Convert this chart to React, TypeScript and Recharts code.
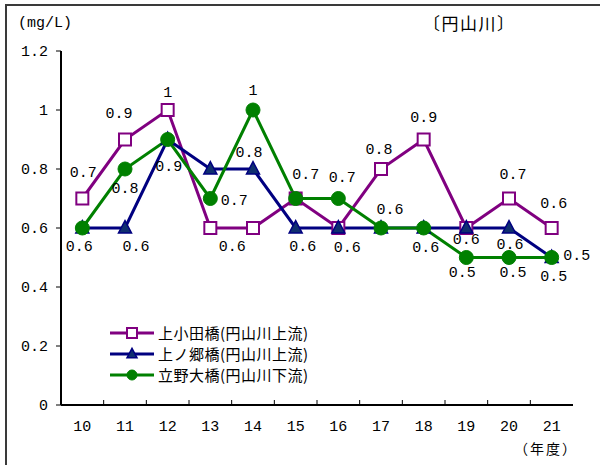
import React from 'react';
import { LineChart, Line, XAxis, YAxis, LabelList, Legend } from 'recharts';

const years = ['10', '11', '12', '13', '14', '15', '16', '17', '18', '19', '20', '21'];
const kamiOdabashi = [0.7, 0.9, 1, 0.6, 0.6, 0.7, 0.6, 0.8, 0.9, 0.6, 0.7, 0.6];
const kaminogoBashi = [0.6, 0.6, 0.9, 0.8, 0.8, 0.6, 0.6, 0.6, 0.6, 0.6, 0.6, 0.5];
const tatenoOhashi = [0.6, 0.8, 0.9, 0.7, 1, 0.7, 0.7, 0.6, 0.6, 0.5, 0.5, 0.5];
const yTicks = [0, 0.2, 0.4, 0.6, 0.8, 1, 1.2];
const seriesNames = ['上小田橋(円山川上流)', '上ノ郷橋(円山川上流)', '立野大橋(円山川下流)'];

const data = years.map((year, i) => ({
  year,
  a: kamiOdabashi[i],
  b: kaminogoBashi[i],
  c: tatenoOhashi[i],
}));

// label placement (dx, dy from the point), null = no label shown
type Off = [number, number] | null;
const offA: Off[] = [[1, -25], [-6, -25], [0, -17], [22, 19], null, [10, -23], null, [-2, -19], [0, -21], null, [4, -23], [2, -24]];
const offB: Off[] = [[-3, 19], [11, 19], [1, 28], null, [-4, -16], [7, 19], [9, 20], null, null, [0, 12], [1, 17], [2, 20]];
const offC: Off[] = [null, [0, 20], null, [24, 3], [0, -19], null, [4, -20], [9, -18], [2, 20], [-4, 16], [4, 16], [25, -1]];

const PURPLE = '#800080';
const NAVY = '#000080';
const GREEN = '#008000';
const FRAME = '#3a3a3a';
const MONO = '"Liberation Mono", "DejaVu Sans Mono", monospace';
const CJK = '"Noto Sans CJK JP", "Noto Sans", sans-serif';

const W = 600;
const H = 465;
const M = { top: 51, right: 27, bottom: 30, left: 0 };
const Y_W = 61;
const bandW = (W - M.left - M.right - Y_W) / years.length;

type Kind = 'square' | 'triangle' | 'circle';
const kinds: Kind[] = ['square', 'triangle', 'circle'];
const colors = [PURPLE, NAVY, GREEN];

function Marker({ kind, cx, cy, s }: { kind: Kind; cx: number; cy: number; s: number }) {
  if (kind === 'square') {
    return <rect x={cx - s / 2} y={cy - s / 2} width={s} height={s} fill="#fff" stroke={PURPLE} strokeWidth={2} />;
  }
  if (kind === 'triangle') {
    const h = s * 0.95;
    return (
      <polygon
        points={`${cx},${cy - h * 0.6} ${cx + s / 2},${cy + h * 0.4} ${cx - s / 2},${cy + h * 0.4}`}
        fill="#0f2f6f"
        stroke={NAVY}
        strokeWidth={1.5}
      />
    );
  }
  return <circle cx={cx} cy={cy} r={s / 2} fill={GREEN} stroke={GREEN} />;
}

const dotOf = (kind: Kind, s: number) => (props: any) => {
  const { cx, cy, index } = props;
  if (cx == null || cy == null) return <g key={`d-${kind}-${index}`} />;
  return (
    <g key={`d-${kind}-${index}`}>
      <Marker kind={kind} cx={cx} cy={cy} s={s} />
    </g>
  );
};

const labelOf = (offs: Off[]) => (props: any) => {
  const { x, y, value, index } = props;
  const o = offs[index];
  if (!o || x == null) return null;
  return (
    <text
      x={x + o[0]}
      y={y + o[1]}
      textAnchor="middle"
      dominantBaseline="central"
      fontFamily={MONO}
      fontSize={15}
      fill="#000"
    >
      {String(value)}
    </text>
  );
};

const XTick = (props: any) => {
  const { x, y, payload, index } = props;
  const last = index === years.length - 1;
  return (
    <g>
      <text x={x} y={y + 22} textAnchor="middle" dominantBaseline="central" fontFamily={MONO} fontSize={15} fill="#000">
        {payload.value}
      </text>
      {!last && <line x1={x + bandW / 2} y1={y} x2={x + bandW / 2} y2={y - 5} stroke="#000" strokeWidth={1} />}
    </g>
  );
};

const LegendBox = (props: any) => {
  const items = props.payload || [];
  return (
    <div style={{ fontFamily: CJK, fontSize: 15, color: '#000', lineHeight: '21px' }}>
      {items.map((it: any) => {
        const i = seriesNames.indexOf(it.value);
        return (
          <div key={it.value} style={{ display: 'flex', alignItems: 'center', height: 21 }}>
            <svg width={44} height={16} style={{ display: 'block' }}>
              <line x1={0} y1={8} x2={44} y2={8} stroke={colors[i]} strokeWidth={3} />
              <Marker kind={kinds[i]} cx={22} cy={8} s={10} />
            </svg>
            <span style={{ marginLeft: 4, letterSpacing: 0.5 }}>{it.value}</span>
          </div>
        );
      })}
    </div>
  );
};

export default function App() {
  return (
    <div style={{ position: 'absolute', left: 0, top: 0, width: W, height: H, overflow: 'hidden', background: '#fff' }}>
      <div
        style={{
          position: 'absolute',
          left: 5,
          top: 4,
          width: 640,
          height: 500,
          border: `2px solid ${FRAME}`,
        }}
      />
      <div style={{ position: 'absolute', left: 18, top: 15, fontFamily: MONO, fontSize: 15, lineHeight: '18px' }}>(mg/L)</div>
      <div style={{ position: 'absolute', left: 423, top: 12, fontFamily: CJK, fontSize: 17, lineHeight: '22px', letterSpacing: 1.5 }}>〔円山川〕</div>
      <div style={{ position: 'absolute', left: 514, top: 440, fontFamily: CJK, fontSize: 14, lineHeight: '17px', letterSpacing: 2 }}>（年度）</div>
      <LineChart width={W} height={H} data={data} margin={M} style={{ position: 'absolute', left: 0, top: 0 }}>
        <XAxis
          dataKey="year"
          tickLine={false}
          tickSize={0}
          tickMargin={0}
          height={30}
          padding={{ left: bandW / 2, right: bandW / 2 }}
          axisLine={{ stroke: '#000', strokeWidth: 2 }}
          tick={<XTick />}
          interval={0}
        />
        {/* frame: top and right edges of the plot box */}
        <XAxis
          xAxisId="top"
          orientation="top"
          dataKey="year"
          height={0}
          tick={false}
          tickLine={false}
          axisLine={{ stroke: FRAME, strokeWidth: 2 }}
        />
        <YAxis
          width={Y_W}
          domain={[0, 1.2]}
          ticks={yTicks}
          type="number"
          tickSize={5}
          tickMargin={8}
          tickLine={{ stroke: '#000' }}
          axisLine={{ stroke: '#000', strokeWidth: 2 }}
          tick={{ fontFamily: MONO, fontSize: 15, fill: '#000' }}
          tickFormatter={(v) => String(v)}
        />
        <YAxis
          yAxisId="right"
          orientation="right"
          width={0}
          domain={[0, 1.2]}
          type="number"
          tick={false}
          tickLine={false}
          axisLine={{ stroke: FRAME, strokeWidth: 2 }}
        />
        <Legend
          layout="vertical"
          align="center"
          verticalAlign="middle"
          itemSorter="dataKey"
          content={<LegendBox />}
          wrapperStyle={{ left: 110, top: 322, width: 'auto' }}
        />
        <Line
          dataKey="a"
          name={seriesNames[0]}
          stroke={PURPLE}
          strokeWidth={3}
          dot={dotOf('square', 12)}
          activeDot={false}
          isAnimationActive={false}
        >
          <LabelList dataKey="a" content={labelOf(offA)} />
        </Line>
        <Line
          dataKey="b"
          name={seriesNames[1]}
          stroke={NAVY}
          strokeWidth={3}
          dot={dotOf('triangle', 13)}
          activeDot={false}
          isAnimationActive={false}
        >
          <LabelList dataKey="b" content={labelOf(offB)} />
        </Line>
        <Line
          dataKey="c"
          name={seriesNames[2]}
          stroke={GREEN}
          strokeWidth={3}
          dot={dotOf('circle', 14)}
          activeDot={false}
          isAnimationActive={false}
        >
          <LabelList dataKey="c" content={labelOf(offC)} />
        </Line>
      </LineChart>
    </div>
  );
}
